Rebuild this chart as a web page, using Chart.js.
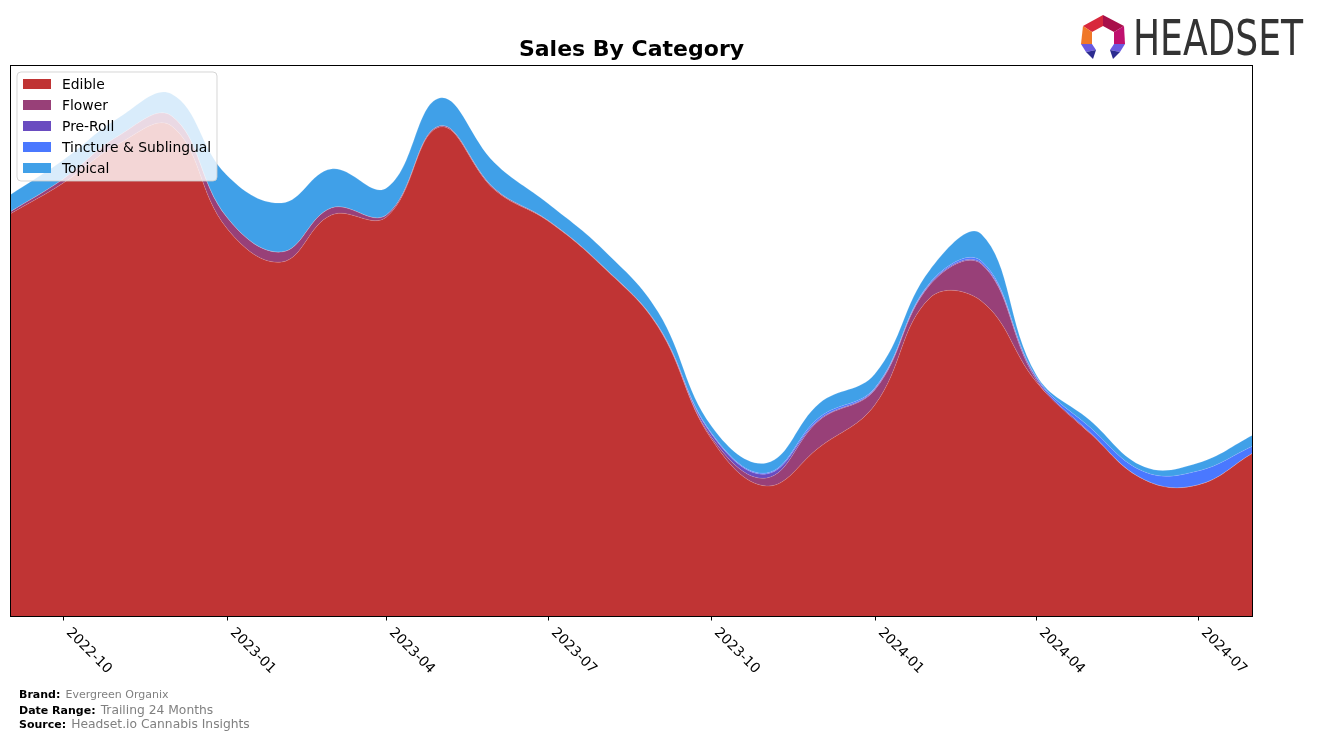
<!DOCTYPE html>
<html>
<head>
<meta charset="utf-8">
<script src="https://cdn.jsdelivr.net/npm/chart.js@4.4.0/dist/chart.umd.min.js"></script>
<style>
html,body{margin:0;padding:0;background:#fff;}
#wrap{position:relative;width:1317px;height:740px;overflow:hidden;}
#c{position:absolute;left:0;top:0;}
.foot{position:absolute;left:19px;font-family:'DejaVu Sans',sans-serif;white-space:nowrap;line-height:14px;color:#000;}
.foot b{font-size:11px;font-weight:bold;}
.foot span{color:#808080;}
#logoText{position:absolute;left:1133px;top:8px;font-family:'DejaVu Sans Condensed','Liberation Sans Narrow','DejaVu Sans',sans-serif;font-size:50px;line-height:60px;color:#333;transform-origin:0 0;white-space:nowrap;}
#logoIcon{position:absolute;left:1078px;top:12px;}
</style>
</head>
<body>
<div id="wrap">
<canvas id="c" width="1317" height="740"></canvas>
<svg id="logoIcon" width="50" height="52" viewBox="1078 12 50 52">
  <polygon points="1103,15 1083,26 1092,32 1103,26" fill="#d8283c"/>
  <polygon points="1103,15 1124,26 1114,32 1103,26" fill="#a8104a"/>
  <polygon points="1083,26 1081,44 1092,44 1092,32" fill="#f07828"/>
  <polygon points="1124,26 1125,44 1114,44 1114,32" fill="#c0106e"/>
  <polygon points="1081,44 1092,44 1096,50 1086,52" fill="#6a5ae0"/>
  <polygon points="1086,52 1096,50 1093,59" fill="#2c2c90"/>
  <polygon points="1125,44 1114,44 1110,50 1120,52" fill="#6a5ae0"/>
  <polygon points="1120,52 1110,50 1113,59" fill="#2c2c90"/>
</svg>
<div id="logoText">HEADSET</div>
<div class="foot" style="top:686px;"><b>Brand:</b> <span style="font-size:11px;">Evergreen Organix</span></div>
<div class="foot" style="top:702px;"><b>Date Range:</b> <span style="font-size:12.3px;">Trailing 24 Months</span></div>
<div class="foot" style="top:716px;"><b>Source:</b> <span style="font-size:12.3px;">Headset.io Cannabis Insights</span></div>
</div>
<script>
// ---- data ----
const months = ['2022-09','2022-10','2022-11','2022-12','2023-01','2023-02','2023-03','2023-04','2023-05','2023-06','2023-07','2023-08','2023-09','2023-10','2023-11','2023-12','2024-01','2024-02','2024-03','2024-04','2024-05','2024-06','2024-07','2024-08'];
const edible   = [402, 433, 472, 490, 388, 354, 401, 399, 489, 426, 395, 349, 289, 177, 130, 169, 211, 318, 315, 234, 183, 136, 131, 163];
const flower   = [2, 4, 8, 10, 11, 10, 7, 2, 1, 1, 0.5, 0.5, 0.5, 2, 8, 27, 15, 13, 37, 2, 0, 0, 0, 0];
const preRoll  = [0, 0, 0, 0, 0, 0, 0, 0, 0, 0, 0, 0, 0.5, 3, 4, 1, 1, 1, 1, 2, 1, 0, 0, 0];
const tincture = [0, 0, 0, 0, 0, 0, 0, 0, 0, 0, 0, 0, 0, 1, 1, 2, 1, 1, 2, 1, 5, 8, 14, 7];
const topical  = [17, 19, 18, 22, 42, 49, 39, 27, 28, 26, 17, 17, 14, 7, 10, 14, 14, 13, 27, 2, 7, 5, 8, 11];
const seriesNames = ['Edible','Flower','Pre-Roll','Tincture & Sublingual','Topical'];
const seriesColors = ['#c03434','#984078','#6a4cc0','#4a78ff','#40a0e8'];
const tickLabels = ['2022-10','2023-01','2023-04','2023-07','2023-10','2024-01','2024-04','2024-07'];
const titleText = 'Sales By Category';

function dayNum(s){const p=s.split('-').map(Number);return Date.UTC(p[0],p[1]-1,1)/864e5;}

const allSeries=[edible,flower,preRoll,tincture,topical];
const datasets = allSeries.map((arr,k)=>({
  label: seriesNames[k],
  data: months.map((m,i)=>({x:dayNum(m), y:arr[i]})),
  backgroundColor: seriesColors[k],
  borderColor: 'rgba(255,255,255,0.18)',
  borderWidth: 0.8,
  fill: k===0 ? 'origin' : '-1',
  pointRadius: 0,
  tension: 0.4
}));

const deco = {
  id:'deco',
  afterDatasetsDraw(chart){
    const ctx=chart.ctx, a=chart.chartArea, xs=chart.scales.x;
    ctx.save();
    // frame
    ctx.strokeStyle='#000'; ctx.lineWidth=1;
    ctx.strokeRect(a.left+0.5, a.top+0.5, a.right-a.left-1, a.bottom-a.top);
    // ticks & labels
    ctx.font='13.9px "DejaVu Sans"';
    ctx.fillStyle='#000';
    ctx.textAlign='left'; ctx.textBaseline='alphabetic';
    tickLabels.forEach(t=>{
      const px=Math.round(xs.getPixelForValue(dayNum(t)))+0.5;
      ctx.beginPath(); ctx.moveTo(px,a.bottom); ctx.lineTo(px,a.bottom+4.5); ctx.stroke();
      ctx.save();
      ctx.translate(px+2.3, a.bottom+17);
      ctx.rotate(Math.PI/4);
      ctx.fillText(t,0,0);
      ctx.restore();
    });
    // title
    ctx.font='bold 22px "DejaVu Sans"';
    ctx.textAlign='center'; ctx.textBaseline='middle';
    ctx.fillText(titleText,(a.left+a.right)/2,50);
    // legend
    const lx=a.left+7, ly=a.top+7, lw=200, lh=109, r=4;
    ctx.beginPath();
    ctx.moveTo(lx+r,ly); ctx.lineTo(lx+lw-r,ly); ctx.quadraticCurveTo(lx+lw,ly,lx+lw,ly+r);
    ctx.lineTo(lx+lw,ly+lh-r); ctx.quadraticCurveTo(lx+lw,ly+lh,lx+lw-r,ly+lh);
    ctx.lineTo(lx+r,ly+lh); ctx.quadraticCurveTo(lx,ly+lh,lx,ly+lh-r);
    ctx.lineTo(lx,ly+r); ctx.quadraticCurveTo(lx,ly,lx+r,ly); ctx.closePath();
    ctx.fillStyle='rgba(255,255,255,0.8)'; ctx.fill();
    ctx.strokeStyle='rgba(204,204,204,0.8)'; ctx.lineWidth=1; ctx.stroke();
    ctx.font='13.9px "DejaVu Sans"';
    ctx.textAlign='left'; ctx.textBaseline='middle';
    chart.data.datasets.forEach((d,i)=>{
      const cy=ly+12+i*21;
      ctx.fillStyle=d.backgroundColor;
      ctx.fillRect(lx+6,cy-5,28,10);
      ctx.fillStyle='#000';
      ctx.fillText(d.label,lx+45,cy+1);
    });
    ctx.restore();
  }
};

new Chart(document.getElementById('c'),{
  type:'line',
  data:{datasets},
  options:{
    responsive:false, animation:false, devicePixelRatio:1,
    layout:{padding:{left:10,right:64,top:65,bottom:124}},
    plugins:{legend:{display:false},tooltip:{enabled:false},title:{display:false}},
    elements:{point:{radius:0}},
    scales:{
      x:{type:'linear',display:false,min:dayNum(months[0]),max:dayNum(months[months.length-1])},
      y:{stacked:true,display:false,min:0,max:551}
    }
  },
  plugins:[deco]
});

// fit logo text width
const lt=document.getElementById('logoText');
const w=lt.getBoundingClientRect().width;
lt.style.transform='scaleX('+(170/w)+')';
</script>
</body>
</html>
